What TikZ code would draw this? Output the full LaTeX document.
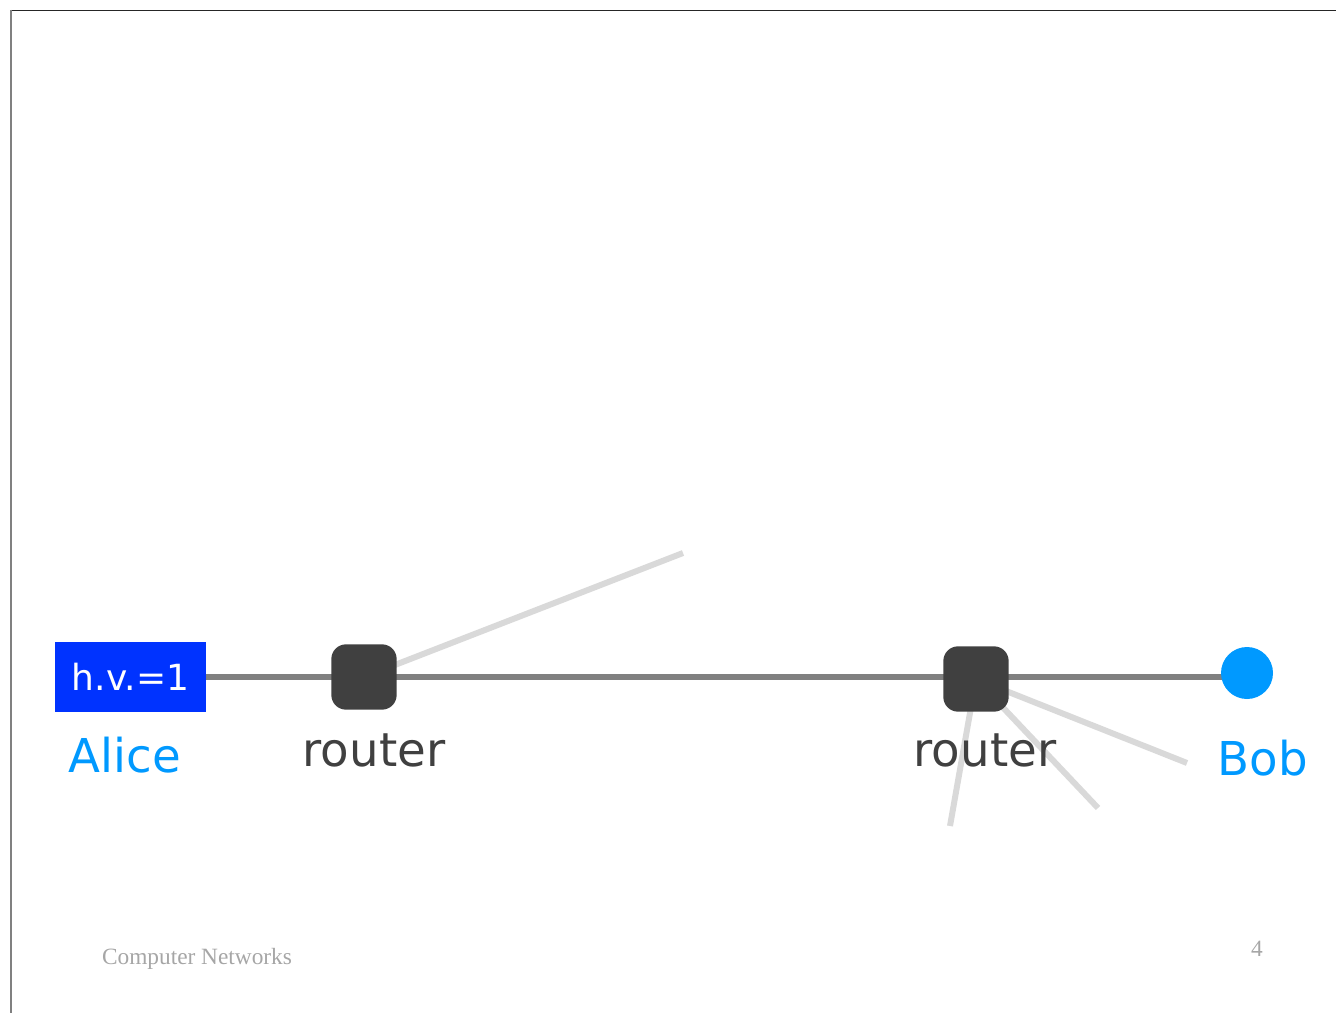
\documentclass[tikz,border=0pt]{standalone}
\usepackage{fontspec}
\setmainfont{Liberation Serif}
\newfontfamily\comic{DejaVu Sans}
\usetikzlibrary{positioning, backgrounds}
\definecolor{aliceblue}{HTML}{0033FF}
\definecolor{bobblue}{HTML}{0099FF}
\definecolor{routergray}{HTML}{404040}
\tikzset{
router/.style={rounded corners=11pt, fill=routergray, minimum size=49pt, inner sep=0pt},
label text/.style={font=\comic\fontsize{35}{38}\selectfont, inner sep=0pt},
link/.style={line width=4pt, draw=gray},
stub/.style={line width=4.5pt, draw=black!15},
}

\begin{document}
\begin{tikzpicture}[x=0.75pt, y=-0.75pt]
    \useasboundingbox (0,0) rectangle (1336,1013);
    \draw[black!85, line width=1pt] (10,10.5) -- (1336,10.5);
    \draw[gray, line width=1.2pt] (11,10) -- (11,1013);

    \node[router] (r1) at (364,677) {};
    \node[router] (r2) at (976,679) {};
    \node[fill=bobblue, circle, minimum size=39pt, inner sep=0pt] (bob) at (1247,673) {};
    \node[fill=aliceblue, minimum width=113pt, minimum height=52pt, inner sep=0pt,
          text=white, font=\comic\fontsize{27}{30}\selectfont] (alice) at (130.5,677) {h.v.=1};

    \node[label text, text=bobblue] (alicetxt) at (125,755) {Alice};
    \node[label text, text=routergray] (r1txt) at (374,750) {router};
    \node[label text, text=routergray] (r2txt) at (985,750) {router};
    \node[label text, text=bobblue] (bobtxt) at (1263,758) {Bob};

    \coordinate (s1) at (683,553);
    \coordinate (s2) at (950,826);
    \coordinate (s3) at (1098,808);
    \coordinate (s4) at (1187,763);

    \begin{scope}[on background layer]
    \draw[stub] (r1.center) -- (s1);
    \draw[stub] (r2.center) -- (s2);
    \draw[stub] (r2.center) -- (s3);
    \draw[stub] (r2.center) -- (s4);
    \draw[link] (alice.east) -- (alice.east -| bob.center);
    \end{scope}

    \node[text=black!35, font=\fontsize{17.5}{19}\selectfont] (footer) at (197,959) {Computer Networks};
    \node[text=black!35, font=\fontsize{17.5}{19}\selectfont] (pagenum) at (1257,949) {4};
\end{tikzpicture}
\end{document}
